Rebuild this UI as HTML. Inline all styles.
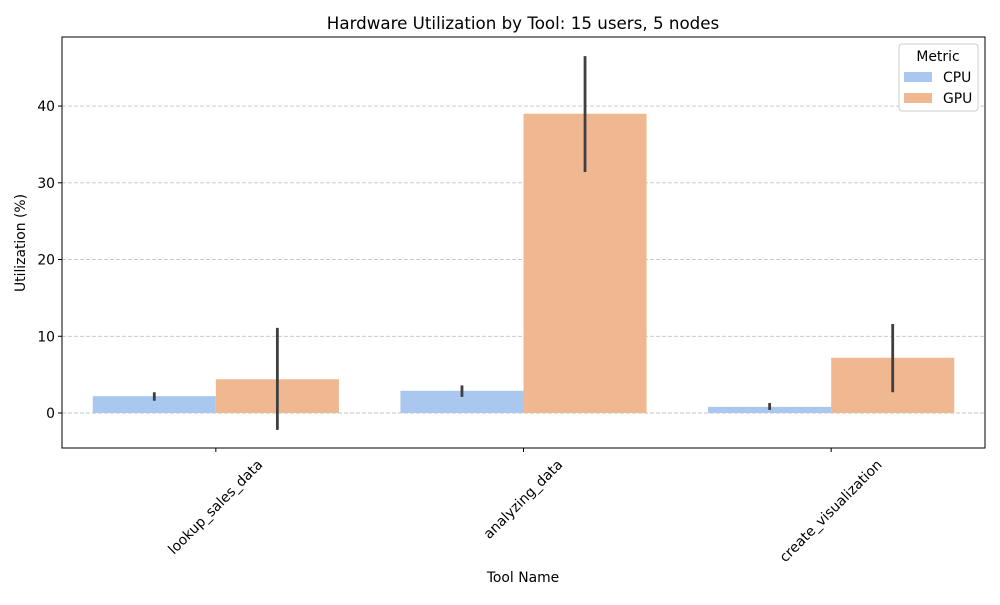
<!DOCTYPE html>
<html><head><meta charset="utf-8"><style>
body{margin:0;background:#fff;font-family:"Liberation Sans","DejaVu Sans",sans-serif;}
svg text{font-family:"DejaVu Sans","Liberation Sans",sans-serif;}
</style></head><body>
<svg id="chart" width="1000" height="600" xmlns="http://www.w3.org/2000/svg">
<rect width="1000" height="600" fill="#fff"/>
<g id="grid"></g><g id="bars"></g><g id="errs"></g><g id="axes"></g>
</svg>
<script>
const categories=["lookup_sales_data","analyzing_data","create_visualization"];
const series=["CPU","GPU"];
const cpuValues=[2.2,2.9,0.8];
const gpuValues=[4.4,39.0,7.2];
const cpuLow=[1.6,2.1,0.4];
const cpuHigh=[2.7,3.6,1.3];
const gpuLow=[-2.2,31.4,2.7];
const gpuHigh=[11.1,46.5,11.6];
const yTicks=[0,10,20,30,40];
const colors=["#aac8ef","#f0b891"];
const NS="http://www.w3.org/2000/svg";
const FS=13.9;
const L=62,R=985,T=37,B=448,ymin=-4.56,ymax=49.0;
const y=v=>B-(v-ymin)/(ymax-ymin)*(B-T);
const band=(R-L)/categories.length;
const xc=i=>L+band*(i+0.5);
function mk(tag,attrs,parent,text){const e=document.createElementNS(NS,tag);for(const k in attrs)e.setAttribute(k,attrs[k]);if(text!=null)e.textContent=text;(typeof parent==='string'?document.getElementById(parent):parent).appendChild(e);return e;}
yTicks.forEach(t=>{
 const g=mk('line',{x1:L,x2:R,y1:y(t),y2:y(t),stroke:'#c4c4c4','stroke-dasharray':'4,2','stroke-width':0.9},'grid');
 
 
});
const bw=band*0.4;
const vals=[cpuValues,gpuValues],lows=[cpuLow,gpuLow],highs=[cpuHigh,gpuHigh];
categories.forEach((c,i)=>{
 series.forEach((s,j)=>{
  const x0=xc(i)-bw+j*bw;
  const v=vals[j][i];
  const r=mk('rect',{x:x0,y:Math.min(y(v),y(0)),width:bw,height:Math.abs(y(0)-y(v)),fill:colors[j]},'bars');
  
  
  const e=mk('line',{x1:x0+bw/2,x2:x0+bw/2,y1:y(lows[j][i]),y2:y(highs[j][i]),stroke:'#3f3f3f','stroke-width':2.8},'errs');
  
  
 });
});
const ax=document.getElementById('axes');
const fr=mk('rect',{x:L,y:T,width:R-L,height:B-T,fill:'none',stroke:'#000','stroke-width':1},ax);


yTicks.forEach(t=>{
 mk('line',{x1:L-4,x2:L,y1:y(t),y2:y(t),stroke:'#000'},ax);
 const tx=mk('text',{x:L-7,y:y(t)+5,'text-anchor':'end','font-size':FS},ax,t);
 
 
});
categories.forEach((c,i)=>{
 mk('line',{x1:xc(i),x2:xc(i),y1:B,y2:B+4,stroke:'#000'},ax);
 const tx=mk('text',{x:0,y:0,'text-anchor':'middle','dominant-baseline':'central','font-size':FS},ax,c);
 const len=tx.getComputedTextLength();
 const h=(len+16)*0.7071;
 const cx=xc(i),cy=B+9+h/2;
 tx.setAttribute('x',cx);tx.setAttribute('y',cy);
 tx.setAttribute('transform',`rotate(-45 ${cx} ${cy})`);
 
 
});
let t1=mk('text',{x:523,y:29,'text-anchor':'middle','font-size':16.7},ax,'Hardware Utilization by Tool: 15 users, 5 nodes');


let t2=mk('text',{x:523,y:582,'text-anchor':'middle','font-size':FS},ax,'Tool Name');


let t3=mk('text',{x:25,y:243,'text-anchor':'middle','font-size':FS,transform:'rotate(-90 25 243)'},ax,'Utilization (%)');


const lg=mk('g',{},ax);


mk('rect',{x:899,y:44,width:79,height:67,fill:'#fff',stroke:'#ccc',rx:3},lg);
mk('text',{x:938,y:61,'text-anchor':'middle','font-size':FS},lg,'Metric');
series.forEach((s,j)=>{
 const en=mk('g',{},lg);
 
 
 mk('rect',{x:904,y:72+j*21,width:28,height:10,fill:colors[j]},en);
 mk('text',{x:943,y:82+j*21,'font-size':FS},en,s);
});
</script>
</body></html>
